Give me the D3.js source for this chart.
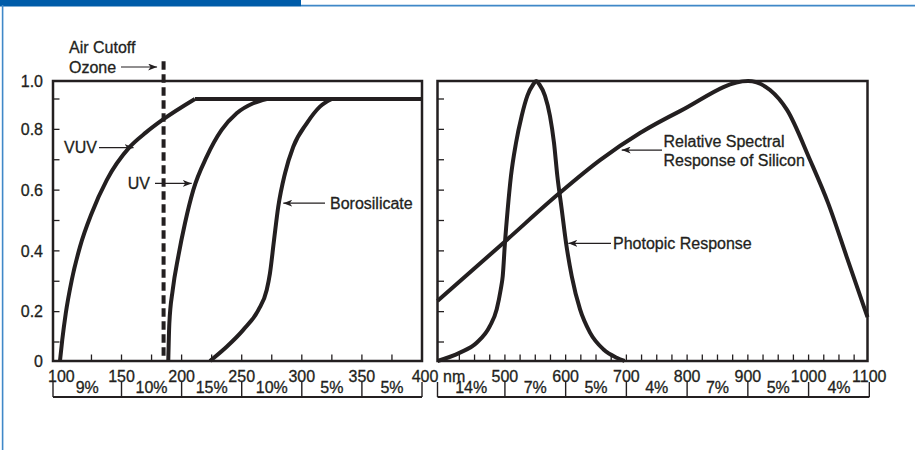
<!DOCTYPE html>
<html>
<head>
<meta charset="utf-8">
<script src="https://cdn.jsdelivr.net/npm/d3@7"></script>
<style>
  body { margin: 0; background: #fff; }
  svg { display: block; font-family: "Liberation Sans", Arial, Helvetica, sans-serif; }
  text { fill: #231f20; font-size: 16px; stroke: #231f20; stroke-width: 0.3px; }
</style>
</head>
<body>
<svg id="chart" width="915" height="450"></svg>
<script>
/** window transmission curves, wavelength (nm) against relative value */
var vuvNm  = [98.8, 100.7, 103.6, 108.6, 115.5, 125.2, 137.7, 157.1, 170.4, 184, 211.1];
var vuvVal = [0, 0.107, 0.194, 0.304, 0.414, 0.524, 0.633, 0.743, 0.79, 0.831, 0.9];

var uvNm  = [188.9, 189.8, 192.6, 197.2, 202.8, 209.7, 220.9, 233.3, 245.8, 259.6, 270.8];
var uvVal = [0, 0.162, 0.271, 0.381, 0.491, 0.6, 0.71, 0.798, 0.853, 0.886, 0.9];

var boroNm  = [223.6, 237.5, 251.3, 263.8, 270.8, 273.5, 276.9, 280.4, 286, 292.9, 304.1, 315.1, 324.9];
var boroVal = [0, 0.075, 0.14, 0.205, 0.271, 0.326, 0.436, 0.545, 0.655, 0.743, 0.82, 0.875, 0.9];

/** all three windows level off at the same transmission */
var plateauVal = 0.9;

/** detector / eye responses for the right panel */
var photopicNm  = [389, 426, 453.5, 475.4, 486.5, 493.1, 496.4, 500.1, 504.6, 510, 518.3, 527.6, 536.9, 546.7, 551.5,
                   556.6, 566, 574.2, 580.8, 586.3, 593.5, 600.6, 610, 623.6, 640.1, 662, 684.1, 697];
var photopicVal = [0, 0.044, 0.096, 0.153, 0.208, 0.273, 0.317, 0.427, 0.537, 0.647, 0.756, 0.844, 0.917, 0.982, 1,
                   0.982, 0.917, 0.844, 0.756, 0.647, 0.537, 0.427, 0.317, 0.208, 0.131, 0.062, 0.017, 0];

var siliconNm  = [389, 503, 587.9, 656.6, 722.4, 788.3, 900.3, 936.5, 964.5, 1002.4, 1032, 1063.3, 1097];
var siliconVal = [0.235, 0.436, 0.587, 0.699, 0.788, 0.86, 1.0, 0.95, 0.864, 0.699, 0.558, 0.377, 0.182];

/** ozone producing air cutoff */
var ozoneNm = 185;

/** tick values and labels */
var yLabels = [0, 0.2, 0.4, 0.6, 0.8, 1.0];
var yMinor  = [0.1, 0.2, 0.3, 0.4, 0.5, 0.6, 0.7, 0.8, 0.9];
var leftLabels  = [100, 150, 200, 250, 300, 350, 400];
var rightLabels = [500, 600, 700, 800, 900, 1000, 1100];
var leftMinor  = [125, 150, 175, 200, 225, 250, 275, 300, 325, 350, 375];
var rightMinor = d3.range(425, 1076, 25);

/** share of each wavelength band in the strip below the panels */
var leftEdges  = [100, 150, 200, 250, 300, 350, 400];
var leftPct    = ["9%", "10%", "15%", "10%", "5%", "5%"];
var rightEdges = [400, 500, 600, 700, 800, 900, 1000, 1100];
var rightPct   = ["14%", "7%", "5%", "4%", "7%", "5%", "4%"];

var ink = "#231f20";
var svg = d3.select("#chart");

/** blue page furniture */
svg.append("rect").attr("x", 0).attr("y", 0).attr("width", 301).attr("height", 6.5).attr("fill", "#005ca9");
svg.append("line").attr("x1", 301).attr("x2", 915).attr("y1", 5.7).attr("y2", 5.7)
  .attr("stroke", "#3f88c8").attr("stroke-width", 1.8);
svg.append("line").attr("x1", 2.6).attr("x2", 2.6).attr("y1", 5).attr("y2", 450)
  .attr("stroke", "#3f88c8").attr("stroke-width", 1.6);

/** scales: hand drawn figure, so the outer tenths are a bit squeezed */
var y = d3.scaleLinear().domain([0, 0.1, 0.9, 1]).range([361, 342, 99, 81]);
var xL = d3.scaleLinear().domain([93, 400]).range([53, 422]);
var xR = d3.scaleLinear().domain([389, 1097]).range([437.5, 867.5]);

svg.append("defs").append("marker")
    .attr("id", "arrow")
    .attr("markerUnits", "userSpaceOnUse")
    .attr("markerWidth", 10).attr("markerHeight", 7)
    .attr("refX", 9).attr("refY", 3.5)
    .attr("orient", "auto")
  .append("path")
    .attr("d", "M0,0 L9,3.5 L0,7 L2.5,3.5 Z")
    .attr("fill", ink);

/** frame, inward ticks and the percent strip for one panel */
function panel(x, minor, labels, edges, pct) {
  var g = svg.append("g");
  var x0 = x.range()[0], x1 = x.range()[1];

  g.append("rect")
    .attr("x", x0).attr("y", y(1))
    .attr("width", x1 - x0).attr("height", y(0) - y(1))
    .attr("fill", "none").attr("stroke", ink).attr("stroke-width", 2.5);

  g.selectAll(".ytick").data(yMinor).enter().append("line")
    .attr("x1", x0).attr("x2", x0 + 6.5)
    .attr("y1", d => y(d)).attr("y2", d => y(d))
    .attr("stroke", ink).attr("stroke-width", 1.3);

  g.selectAll(".xtick").data(minor).enter().append("line")
    .attr("x1", d => x(d)).attr("x2", d => x(d))
    .attr("y1", y(0)).attr("y2", y(0) - 6.5)
    .attr("stroke", ink).attr("stroke-width", 1.3);

  g.selectAll(".xlab").data(labels).enter().append("text")
    .attr("x", d => x(d) + (d === 400 ? 3 : 0))
    .attr("y", 381.5)
    .attr("text-anchor", "middle")
    .text(d => d);

  /** strip: first edge sits at the frame's left side */
  var px = edges.map((d, i) => i === 0 ? x0 : x(d));
  g.append("line")
    .attr("x1", px[0]).attr("x2", px[px.length - 1])
    .attr("y1", 397).attr("y2", 397)
    .attr("stroke", ink).attr("stroke-width", 2.2);
  g.selectAll(".stick").data(px).enter().append("line")
    .attr("x1", d => d).attr("x2", d => d)
    .attr("y1", 382).attr("y2", 397)
    .attr("stroke", ink).attr("stroke-width", 1.4);
  g.selectAll(".pct").data(pct).enter().append("text")
    .attr("x", (d, i) => (px[i] + px[i + 1]) / 2)
    .attr("y", 393)
    .attr("text-anchor", "middle")
    .text(d => d);
  return g;
}

var left = panel(xL, leftMinor, leftLabels, leftEdges, leftPct);
var right = panel(xR, rightMinor, rightLabels, rightEdges, rightPct);

svg.append("text").attr("x", 443).attr("y", 381.5).text("nm");

/** y labels on the left panel only */
svg.selectAll(".ylab").data(yLabels).enter().append("text")
  .attr("x", 43).attr("y", d => y(d)).attr("dy", "0.36em")
  .attr("text-anchor", "end")
  .text(d => d === 0 ? "0" : d.toFixed(1));

/** curves */
function curve(g, x, nm, val) {
  var line = d3.line()
    .x(d => x(d[0]))
    .y(d => y(d[1]))
    .curve(d3.curveMonotoneX);
  g.append("path")
    .datum(d3.zip(nm, val))
    .attr("d", line)
    .attr("fill", "none")
    .attr("stroke", ink)
    .attr("stroke-width", 4);
}

curve(left, xL, vuvNm, vuvVal);
curve(left, xL, uvNm, uvVal);
curve(left, xL, boroNm, boroVal);

/** flat top shared by the three windows */
left.append("path")
  .datum([[vuvNm[vuvNm.length - 1], plateauVal], [xL.domain()[1], plateauVal]])
  .attr("d", d3.line().x(d => xL(d[0])).y(d => y(d[1])))
  .attr("fill", "none").attr("stroke", ink).attr("stroke-width", 4);

curve(right, xR, photopicNm, photopicVal);
curve(right, xR, siliconNm, siliconVal);

/** air cutoff marker */
left.append("line")
  .attr("x1", xL(ozoneNm)).attr("x2", xL(ozoneNm))
  .attr("y1", y(1.11)).attr("y2", y(0))
  .attr("stroke", ink).attr("stroke-width", 4)
  .attr("stroke-dasharray", "8.5,4.5");

/** labels with arrows pointing at the curves */
function note(tx, ty, fromX, lines, anchor, textX) {
  svg.append("line")
    .attr("x1", fromX).attr("x2", tx)
    .attr("y1", ty).attr("y2", ty)
    .attr("stroke", ink).attr("stroke-width", 1.2)
    .attr("marker-end", "url(#arrow)");
  lines.forEach(function(l) {
    svg.append("text")
      .attr("x", textX).attr("y", l[1]).attr("dy", "0.36em")
      .attr("text-anchor", anchor)
      .text(l[0]);
  });
}

note(xL(160), y(0.74), 99, [["VUV", y(0.74)]], "end", 97);
note(xL(208.4), y(0.622), 155, [["UV", y(0.622)]], "end", 150);
note(xL(284.6), y(0.557), 325, [["Borosilicate", y(0.557)]], "start", 330);
note(xR(604.4), y(0.425), 611, [["Photopic Response", y(0.425)]], "start", 613);
note(xR(692.3), y(0.732), 662, [["Relative Spectral", 141], ["Response of Silicon", 160]], "start", 663.5);
note(xL(ozoneNm) - 6.5, 67, 121, [["Ozone", 67]], "start", 69);
svg.append("text").attr("x", 69).attr("y", 47).attr("dy", "0.36em").text("Air Cutoff");
</script>
</body>
</html>
